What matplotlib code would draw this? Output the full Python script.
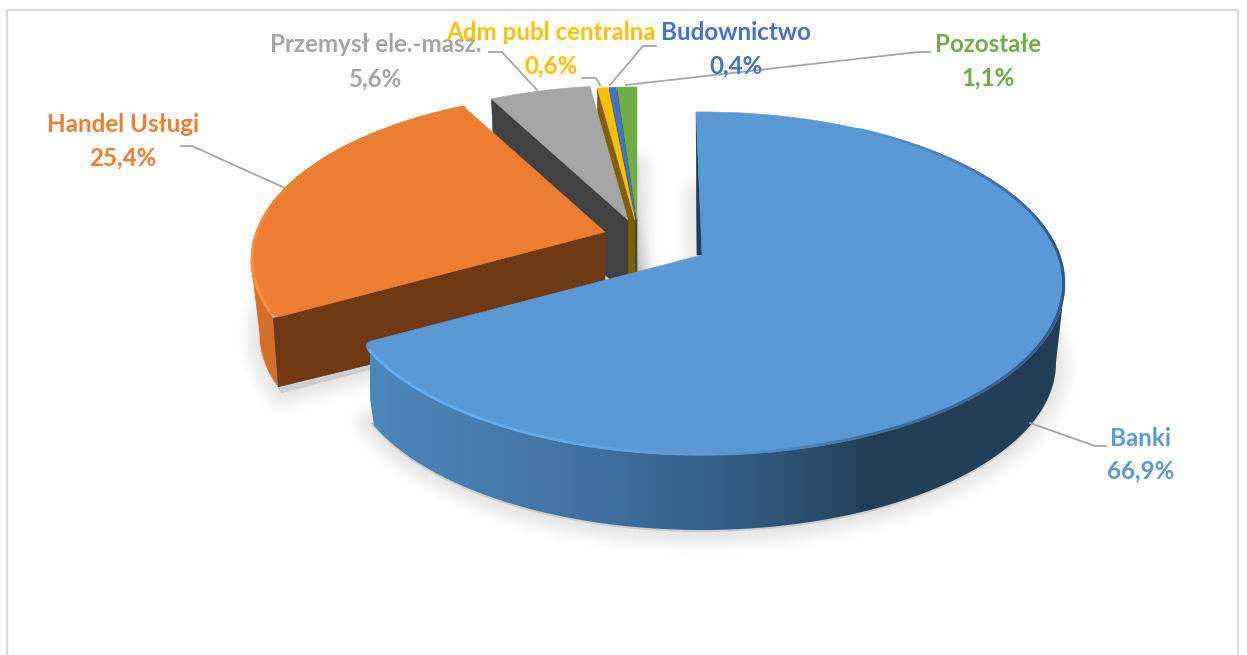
"""Exploded 3D-style pie chart: share of the portfolio by sector."""
import numpy as np
import matplotlib
matplotlib.use("Agg")
import matplotlib.pyplot as plt
from matplotlib.collections import LineCollection
from matplotlib.colors import LinearSegmentedColormap, to_rgb
from matplotlib.patches import Polygon

# data
NAMES = ["Banki", "Handel Usługi", "Przemysł ele.-masz.", "Adm publ centralna",
         "Budownictwo", "Pozostałe"]
SHARES = [66.9, 25.4, 5.6, 0.6, 0.4, 1.1]
PERCENT_LABELS = ["66,9%", "25,4%", "5,6%", "0,6%", "0,4%", "1,1%"]

# styles
TOP_COLORS = ["#5B98D6", "#ED7D31", "#A5A5A5", "#FFC000", "#4472C4", "#70AD47"]
FACE_COLORS = ["#1F3F5C", "#6F3914", "#424242", "#7F6000", "#203864", "#3F6627"]
SIDE_COLOR = "#D2702A"
CENTERS = [(702, 255), (605, 232), (628, 220), (635, 220), (636, 220), (637, 220)]
RADIUS_SCALE = [1.0, 0.975, 0.94, 0.93, 0.93, 0.93]
DEPTH = [80, 75, 75, 75, 75, 75]
WALL_SHIFT = [5, 0, 0, 0, 0, 0]
START_OFFSET = -1.1
LABEL_POS = [(1141, 439), (123, 124), (376, 45), (551, 33), (736, 33), (988, 45)]
LABEL_GAP = [32, 34, 34, 33, 33, 33]
LEADERS = [
    [(1030, 423), (1095, 446), (1106, 446)],
    [(181, 146), (192, 146), (285, 188)],
    [(489, 52), (502, 52), (537, 90)],
    [(582, 78), (596, 78), (600, 85)],
    [(656, 46), (643, 46), (610, 85)],
    [(626, 85), (918, 52), (930, 52)],
]

# perspective of the pie's top surface
RX, RY, PERSP = 358.0, 166.8, 0.166
BOTTOM_SCALE = 0.975
LEFT_TANGENT, RIGHT_TANGENT = 260.5, 99.5
CORNER_RADIUS = 10


def rim(theta, center, scale=1.0, depth=0.0):
    t = np.radians(theta)
    u, v = np.sin(t), np.cos(t)
    w = 1 + PERSP * v
    x = center[0] + scale * RX * u / w
    y = center[1] + depth - scale * RY * v / w
    return np.column_stack([x, y])


def round_corner(arc, apex, r):
    """Slice outline with its outer corner (last arc point) rounded off."""
    corner = arc[-1]
    keep = arc[np.linalg.norm(arc - corner, axis=1) >= r]
    to_apex = np.asarray(apex, dtype=float) - corner
    p0, p2 = keep[-1], corner + r * to_apex / np.linalg.norm(to_apex)
    t = np.linspace(0, 1, 20)[:, None]
    bez = (1 - t) ** 2 * p0 + 2 * t * (1 - t) * corner + t ** 2 * p2
    return np.vstack([[apex], keep, bez])


def arc_side(start, end, i):
    """Outer wall of a slice, only the part that faces the viewer."""
    a = max(start, RIGHT_TANGENT)
    b = end if i == 0 else min(end, LEFT_TANGENT)
    if a >= b:
        return None
    top = rim(np.linspace(a, b, 200), CENTERS[i], RADIUS_SCALE[i])
    # the lower edge stops a little short, the outer corners are rounded
    a2 = a + 1.5 if i else a
    b2 = b - 1.5 if i == 0 else b
    bot = rim(np.linspace(a2, b2, 200), CENTERS[i], RADIUS_SCALE[i] * BOTTOM_SCALE, DEPTH[i])
    return np.vstack([top, bot[::-1]])


def main():
    fig = plt.figure(figsize=(12.47, 6.55), dpi=100)
    ax = fig.add_axes([0, 0, 1, 1])
    plt.rcParams["font.family"] = ["Lato", "DejaVu Sans"]

    edges = np.concatenate([[0], np.cumsum(SHARES)]) * 3.6
    starts = edges[:-1].copy()
    starts[0] += START_OFFSET
    ends = edges[1:]

    # chart frame, open at the bottom of the crop
    ax.plot([7, 7, 1238, 1238], [655, 10, 10, 655], color="#D9D9D9", lw=1.6)

    # soft shadow on the floor
    for i in range(len(SHARES)):
        th = np.linspace(starts[i], ends[i], 200)
        floor = rim(th, CENTERS[i], RADIUS_SCALE[i] * BOTTOM_SCALE, DEPTH[i])
        apex = np.array([[CENTERS[i][0], CENTERS[i][1] + DEPTH[i]]])
        pts = np.vstack([apex, floor]) + [0, 2]
        for lw in np.arange(2, 34, 2.5):
            ax.add_patch(Polygon(pts, closed=True, fc="black", ec="black", lw=lw,
                                 alpha=0.009, joinstyle="round", zorder=1))

    # back to front: small slices first, the big blue one last
    for order, i in enumerate([5, 4, 3, 2, 1, 0]):
        z = 2 + order
        c = CENTERS[i]
        s = RADIUS_SCALE[i]
        shift = WALL_SHIFT[i]

        # wall along the starting radius
        corner_top = rim(starts[i], c, s)[0]
        corner_bot = rim(starts[i] + (1.5 if i == 1 else 0), c, s * BOTTOM_SCALE, DEPTH[i])[0]
        if shift:
            wall = [corner_top, c, (c[0] - shift, c[1])]
        else:
            wall = [corner_top, c, (c[0], c[1] + DEPTH[i]), corner_bot]

        # outer wall
        side = arc_side(starts[i], ends[i], i)
        if side is not None and i == 0:
            patch = Polygon(side, closed=True, fc="none", ec="none", zorder=z)
            ax.add_patch(patch)
            cmap = LinearSegmentedColormap.from_list(
                "side", [(0, "#4C86BA"), (0.32, "#3F72A2"), (0.55, "#315A80"),
                         (0.72, "#233F57"), (1, "#233F57")])
            img = ax.imshow(np.linspace(0, 1, 512)[None, :], cmap=cmap, aspect="auto",
                            extent=[370, 1065, 540, 280], zorder=z,
                            interpolation="bilinear")
            img.set_clip_path(patch)
        elif side is not None:
            ax.add_patch(Polygon(side, closed=True, fc=SIDE_COLOR, ec=SIDE_COLOR,
                                 lw=0.5, zorder=z))
        ax.add_patch(Polygon(wall, closed=True, fc=FACE_COLORS[i], ec=FACE_COLORS[i],
                             lw=0.5, zorder=z + 0.1))

        # top surface, the two big slices get a rounded outer corner
        th = np.linspace(starts[i], ends[i], 300)
        arc = rim(th, c, s)
        if i == 0:
            top = round_corner(arc, c, CORNER_RADIUS)
        elif i == 1:
            top = round_corner(arc[::-1], c, CORNER_RADIUS)
        else:
            top = np.vstack([[c], arc])
        ax.add_patch(Polygon(top, closed=True, fc=TOP_COLORS[i], ec=TOP_COLORS[i],
                             lw=0.4, zorder=z + 0.2))

        # bevel along the rim of the two big front slices
        if i in (0, 1):
            if i == 0:
                stops = [30, 85, 110, 155, 178, 205, ends[i] - 2.5]
                cols = ["#5B98D6", "#2F5C85", "#2F5C85", "#3E6E9C", "#5B98D6",
                        "#63ACF0", "#63ACF0"]
                th = np.linspace(30, ends[i] - 2.5, 400)
            else:
                stops = [starts[i], 262, 290, ends[i]]
                cols = ["#FF8C38", "#FF8C38", "#ED7D31", "#ED7D31"]
                th = np.linspace(starts[i] + 2.5, ends[i], 400)
            pts = rim(th, c, s * 0.996)
            segs = np.stack([pts[:-1], pts[1:]], axis=1)
            rgb = np.array([to_rgb(col) for col in cols])
            mid = (th[:-1] + th[1:]) / 2
            seg_cols = np.column_stack([np.interp(mid, stops, rgb[:, k]) for k in range(3)])
            ax.add_collection(LineCollection(segs, colors=seg_cols, linewidths=2.0,
                                             capstyle="round", zorder=z + 0.3))

    # labels and leader lines
    for i, name in enumerate(NAMES):
        x, y = LABEL_POS[i]
        color = TOP_COLORS[i] if i else "#5B9BD5"
        ax.text(x, y, name, color=color, fontsize=17.4, fontweight="bold",
                ha="center", va="center", zorder=20)
        ax.text(x, y + LABEL_GAP[i], PERCENT_LABELS[i], color=color, fontsize=17.4,
                fontweight="bold", ha="center", va="center", zorder=20)
        xs, ys = zip(*LEADERS[i])
        ax.plot(xs, ys, color="#A6A6A6", lw=1.3, zorder=1.5 if i == 5 else 15)

    ax.set_xlim(0, 1247)
    ax.set_ylim(655, 0)
    ax.set_axis_off()
    fig.savefig("out.png", dpi=100, facecolor="white")


if __name__ == "__main__":
    main()
